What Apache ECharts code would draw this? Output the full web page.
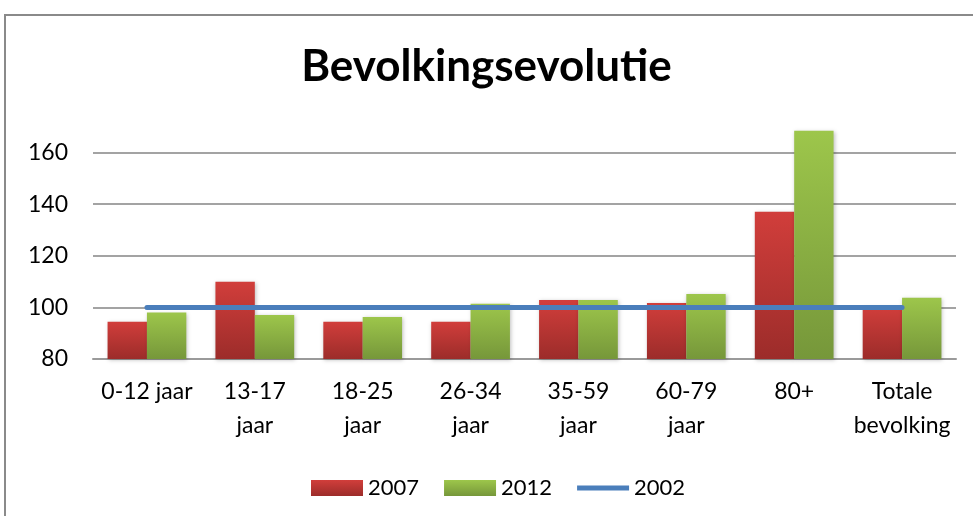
<!DOCTYPE html>
<html>
<head>
<meta charset="utf-8">
<script src="https://cdn.jsdelivr.net/npm/echarts@6/dist/echarts.min.js"></script>
<style>
  html, body { margin: 0; padding: 0; background: #fff; }
  #container { width: 973px; height: 516px; }
</style>
</head>
<body>
<div id="container"></div>
<script>
// categories and series values
var categories = ['0-12 jaar', '13-17\njaar', '18-25\njaar', '26-34\njaar', '35-59\njaar', '60-79\njaar', '80+', 'Totale\nbevolking'];
var values2007 = [94.4, 109.9, 94.4, 94.4, 102.9, 101.7, 137.1, 100.3];
var values2012 = [98.0, 97.1, 96.3, 101.4, 102.9, 105.2, 168.5, 103.7];
var values2002 = [100, 100, 100, 100, 100, 100, 100, 100];

var font = 'Lato, "Noto Sans", sans-serif';

function grad(top, bottom) {
    return {
        type: 'linear', x: 0, y: 0, x2: 0, y2: 1,
        colorStops: [{ offset: 0, color: top }, { offset: 1, color: bottom }]
    };
}

var redFill = grad('#d13e3b', '#9c2c2a');
var greenFill = grad('#9dc64b', '#76973a');

var myChart = echarts.init(document.getElementById('container'));

var option = {
    animation: false,
    textStyle: { fontFamily: font },
    title: {
        text: 'Bevolkingsevolutie',
        left: 'center',
        top: 40,
        textStyle: { fontSize: 44, fontWeight: 'bold', color: '#000', fontFamily: font }
    },
    // chart frame
    graphic: [{
        type: 'rect',
        shape: { x: 5, y: 15, width: 1100, height: 700 },
        style: { fill: 'none', stroke: '#8a8a8a', lineWidth: 2 },
        silent: true
    }],
    legend: {
        left: 306,
        top: 472,
        itemWidth: 52,
        itemHeight: 16,
        itemGap: 25,
        textStyle: { fontSize: 22, color: '#000', fontFamily: font },
        data: [
            { name: '2007', icon: 'rect' },
            { name: '2012', icon: 'rect' },
            { name: '2002', icon: 'path://M0,0 L0,0 M0,5.5 L52,5.5 L52,10.5 L0,10.5 Z M52,16 L52,16' }
        ]
    },
    grid: { left: 93, right: 17, top: 101, bottom: 157 },
    xAxis: {
        type: 'category',
        data: categories,
        axisTick: { show: false },
        axisLine: { lineStyle: { color: '#9a9a9a', width: 2 } },
        axisLabel: {
            interval: 0,
            color: '#000',
            fontSize: 23,
            lineHeight: 34,
            margin: 16,
            fontFamily: font
        }
    },
    yAxis: {
        type: 'value',
        min: 80,
        max: 180,
        interval: 20,
        axisLine: { show: false },
        axisTick: { show: false },
        axisLabel: { color: '#000', fontSize: 23, margin: 25, showMaxLabel: false, fontFamily: font },
        splitLine: { showMaxLine: false, lineStyle: { color: '#a3a3a3', width: 2 } }
    },
    series: [{
        name: '2007',
        type: 'bar',
        data: values2007,
        barGap: '0%',
        barCategoryGap: '27%',
        itemStyle: {
            color: redFill,
            shadowBlur: 4, shadowColor: 'rgba(0,0,0,0.25)', shadowOffsetX: 1, shadowOffsetY: 1
        }
    }, {
        name: '2012',
        type: 'bar',
        data: values2012,
        itemStyle: {
            color: greenFill,
            shadowBlur: 4, shadowColor: 'rgba(0,0,0,0.25)', shadowOffsetX: 1, shadowOffsetY: 1
        }
    }, {
        name: '2002',
        type: 'line',
        data: values2002,
        symbol: 'none',
        z: 5,
        itemStyle: { color: '#4a7ebb' },
        lineStyle: { color: '#4a7ebb', width: 5, cap: 'round' }
    }]
};

myChart.setOption(option);
</script>
</body>
</html>
